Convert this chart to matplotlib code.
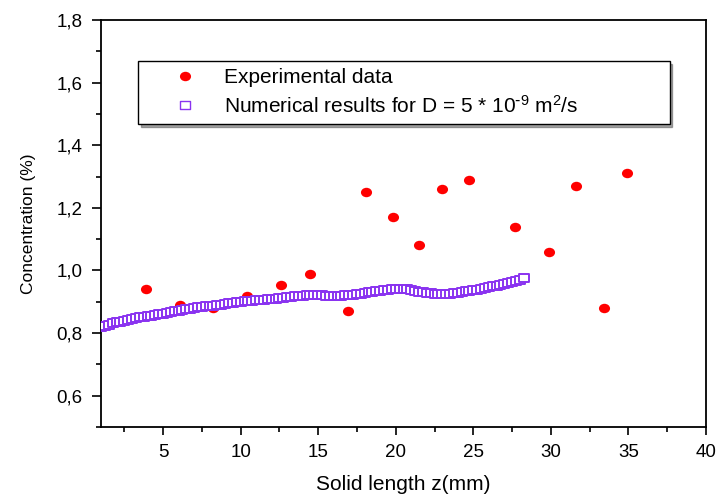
import numpy as np
import matplotlib
matplotlib.use("Agg")
import matplotlib.pyplot as plt
from matplotlib.ticker import MultipleLocator, FuncFormatter
from matplotlib.path import Path

plt.rcParams['font.family'] = ['Liberation Sans', 'DejaVu Sans']
plt.rcParams['mathtext.default'] = 'regular'
plt.rcParams['axes.unicode_minus'] = False

# experimental data
z_exp = [3.9, 6.1, 8.2, 10.4, 12.6, 14.5, 16.9, 18.1, 19.8, 21.5,
         23.0, 24.7, 27.7, 29.9, 31.6, 33.4, 34.9]
c_exp = [0.94, 0.89, 0.88, 0.92, 0.955, 0.99, 0.87, 1.25, 1.17, 1.08,
         1.26, 1.29, 1.14, 1.06, 1.27, 0.88, 1.31]

# numerical results, grid step 0.25 mm from z = 1 mm
z_num = np.arange(1.0, 28.26, 0.25)
c_num = [0.820, 0.824, 0.827, 0.831, 0.834, 0.837, 0.840, 0.842, 0.845, 0.847,
         0.850, 0.852, 0.854, 0.856, 0.858, 0.860, 0.862, 0.865, 0.867, 0.870,
         0.872, 0.874, 0.876, 0.878, 0.880, 0.882, 0.884, 0.885, 0.887, 0.888,
         0.890, 0.891, 0.893, 0.895, 0.896, 0.898, 0.900, 0.901, 0.902, 0.904,
         0.905, 0.906, 0.907, 0.908, 0.909, 0.910, 0.911, 0.913, 0.914, 0.915,
         0.917, 0.918, 0.920, 0.921, 0.922, 0.922, 0.922, 0.921, 0.920, 0.919,
         0.919, 0.919, 0.920, 0.921, 0.922, 0.923, 0.925, 0.926, 0.928, 0.930,
         0.932, 0.934, 0.936, 0.937, 0.939, 0.940, 0.941, 0.941, 0.941, 0.940,
         0.938, 0.935, 0.932, 0.930, 0.928, 0.927, 0.926, 0.925, 0.925, 0.925,
         0.926, 0.927, 0.929, 0.931, 0.933, 0.935, 0.937, 0.939, 0.941, 0.944,
         0.946, 0.949, 0.951, 0.954, 0.957, 0.960, 0.964, 0.967, 0.971, 0.975]

# slightly wide markers (the original figure is stretched horizontally)
circ = Path.unit_circle()
ellipse = Path(circ.vertices * [1.0, 0.85], circ.codes)
rect = Path([(-1, -0.8), (1, -0.8), (1, 0.8), (-1, 0.8), (-1, -0.8)],
            [Path.MOVETO, Path.LINETO, Path.LINETO, Path.LINETO, Path.CLOSEPOLY])

fig = plt.figure(figsize=(7.18, 5.01), dpi=100)
ax = fig.add_axes([0.1407, 0.1477, 0.8426, 0.8123])

ax.plot(z_num, c_num, linestyle='none', marker=rect, markersize=7.3,
        markerfacecolor='white', markeredgecolor='#8a33f0', markeredgewidth=1.4,
        label='Numerical results for D = 5 * 10$^{\\text{-}9}$ m$^{2}$/s', zorder=3)
ax.plot(z_exp, c_exp, linestyle='none', marker=ellipse, markersize=8,
        color='#ff0000', markeredgewidth=0,
        label='Experimental data', zorder=2)

ax.set_xlim(1, 40)
ax.set_ylim(0.5, 1.8)
ax.xaxis.set_major_locator(MultipleLocator(5))
ax.xaxis.set_minor_locator(MultipleLocator(2.5))
ax.yaxis.set_major_locator(MultipleLocator(0.2))
ax.yaxis.set_minor_locator(MultipleLocator(0.1))
ax.xaxis.set_major_formatter(FuncFormatter(lambda v, p: f'{v:g}'))
ax.yaxis.set_major_formatter(FuncFormatter(lambda v, p: f'{v:.1f}'.replace('.', ',')))
ax.tick_params(which='both', direction='out', top=False, right=False,
               width=1.2, labelsize=13.5, pad=7)
ax.tick_params(axis='y', which='major', length=6.5)
ax.tick_params(axis='y', which='minor', length=3.6)
ax.tick_params(axis='x', which='major', length=5.5)
ax.tick_params(axis='x', which='minor', length=3.6)
for s in ax.spines.values():
    s.set_linewidth(1.3)

ax.set_xlabel('Solid length z(mm)', fontsize=15)
ax.set_ylabel('Concentration (%)', fontsize=12.5)
ax.xaxis.set_label_coords(0.5, -0.118)
ax.yaxis.set_label_coords(-0.108, 0.5)

handles, labels = ax.get_legend_handles_labels()
leg = ax.legend(handles[::-1], labels[::-1], loc='upper left',
                bbox_to_anchor=(0.061, 0.752, 0.879, 0.147), mode='expand',
                fontsize=15, frameon=True, fancybox=False, shadow=True,
                edgecolor='black', borderaxespad=0, handletextpad=0.0,
                borderpad=0.35, labelspacing=0.35, handlelength=3.8)
leg.get_frame().set_linewidth(1.0)
# the legend square is drawn a bit smaller than the curve markers
leg.legend_handles[1].set_markersize(6.5)
leg.legend_handles[1].set_markeredgewidth(1.0)

fig.savefig('out.png', dpi=100)
